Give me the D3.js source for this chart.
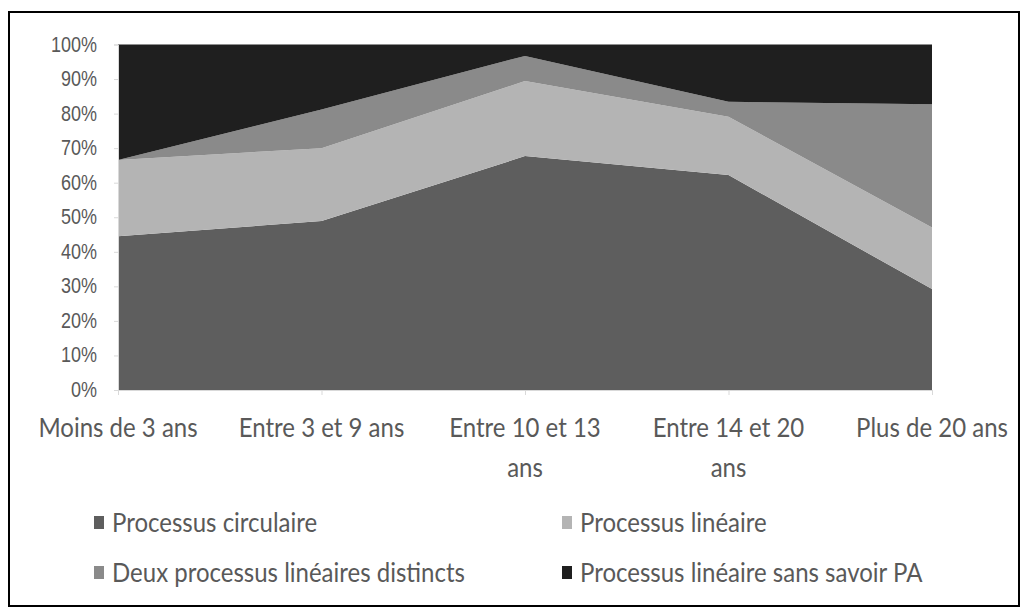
<!DOCTYPE html>
<html>
<head>
<meta charset="utf-8">
<script src="https://cdn.jsdelivr.net/npm/d3@7"></script>
<style>
  body { margin: 0; background: #fff; }
  svg { display: block; }
  .lbl { font-family: Lato, "Open Sans", sans-serif; fill: #595959; }
  .tick-lbl { font-family: "Liberation Sans", Arial, sans-serif; fill: #595959; }
</style>
</head>
<body>
<svg id="chart" width="1022" height="614"></svg>
<script>
// Age groups (x categories); "\n" splits a label over two lines
const categories = ["Moins de 3 ans", "Entre 3 et 9 ans", "Entre 10 et 13\nans", "Entre 14 et 20\nans", "Plus de 20 ans"];

// Share of respondents per process type (%), per age group
const circulaire      = [44.5, 48.9, 67.7, 62.2, 29.2];
const lineaire        = [22.1, 21.1, 21.7, 16.9, 17.8];
const deuxLineaires   = [0.0, 11.2, 7.3, 4.3, 35.7];
const sansSavoirPA    = [33.4, 18.8, 3.3, 16.6, 17.3];

const seriesNames  = ["Processus circulaire", "Processus linéaire", "Deux processus linéaires distincts", "Processus linéaire sans savoir PA"];
const seriesColors = ["#5e5e5e", "#b4b4b4", "#8a8a8a", "#1f1f1f"];

const yTicks = [0, 10, 20, 30, 40, 50, 60, 70, 80, 90, 100];

const svg = d3.select("#chart");

// outer frame
svg.append("rect")
  .attr("x", 9).attr("y", 12).attr("width", 1010).attr("height", 594)
  .attr("fill", "none").attr("stroke", "#000").attr("stroke-width", 2);

const plot = { left: 118, right: 932, top: 44.5, bottom: 390 };

const x = d3.scalePoint().domain(d3.range(categories.length)).range([plot.left, plot.right]);
const y = d3.scaleLinear().domain([0, 100]).range([plot.bottom, plot.top]);

const rows = categories.map((c, i) => ({
  i,
  s0: circulaire[i], s1: lineaire[i], s2: deuxLineaires[i], s3: sansSavoirPA[i]
}));
const stacked = d3.stack().keys(["s0", "s1", "s2", "s3"])(rows);

const area = d3.area()
  .x(d => x(d.data.i))
  .y0(d => y(d[0]))
  .y1(d => y(d[1]));

svg.append("g").selectAll("path")
  .data(stacked)
  .join("path")
  .attr("d", area)
  .attr("fill", (d, k) => seriesColors[k]);

// y axis: line and ticks from d3, labels drawn slightly tall
const yAxis = svg.append("g")
  .attr("transform", `translate(${plot.left},0)`)
  .call(d3.axisLeft(y).tickValues(yTicks).tickSize(4).tickFormat(""));
yAxis.select(".domain").attr("stroke", "#d9d9d9");
yAxis.selectAll(".tick line").attr("stroke", "#d9d9d9");

svg.append("g").selectAll("text")
  .data(yTicks)
  .join("text")
  .attr("class", "tick-lbl")
  .attr("font-size", 18)
  .attr("text-anchor", "end")
  .attr("transform", d => `translate(97,${y(d) + 7}) scale(1,1.2)`)
  .text(d => d + "%");

// x axis
const xAxis = svg.append("g")
  .attr("transform", `translate(0,${plot.bottom})`)
  .call(d3.axisBottom(x).tickSize(5).tickFormat(""));
xAxis.select(".domain").attr("stroke", "#d9d9d9");
xAxis.selectAll(".tick line").attr("stroke", "#d9d9d9");

const xl = svg.append("g").selectAll("text")
  .data(categories)
  .join("text")
  .attr("class", "lbl")
  .attr("font-size", 24)
  .attr("text-anchor", "middle")
  .attr("transform", (d, i) => `translate(${x(i)},437) scale(1,1.15)`);
xl.selectAll("tspan")
  .data(d => d.split("\n"))
  .join("tspan")
  .attr("x", 0)
  .attr("dy", (d, j) => j === 0 ? 0 : 35)
  .text(d => d);

// legend, two columns
const legendPos = [[94, 523], [562, 523], [94, 573], [562, 573]];
const lg = svg.append("g").selectAll("g")
  .data(seriesNames)
  .join("g")
  .attr("transform", (d, k) => `translate(${legendPos[k][0]},${legendPos[k][1]})`);
lg.append("rect")
  .attr("x", 0).attr("y", -7).attr("width", 10).attr("height", 13)
  .attr("fill", (d, k) => seriesColors[k]);
lg.append("text")
  .attr("class", "lbl")
  .attr("font-size", 24)
  .attr("transform", "translate(18,9) scale(1,1.15)")
  .text(d => d);
</script>
</body>
</html>
